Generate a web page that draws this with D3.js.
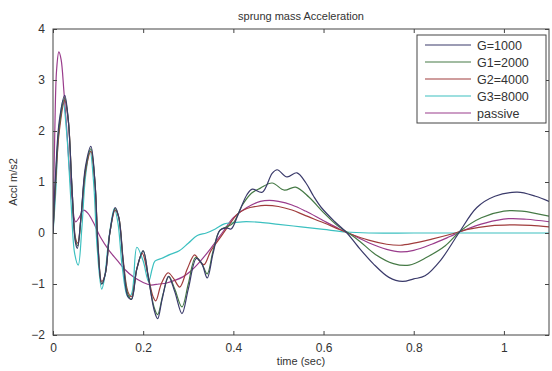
<!DOCTYPE html>
<html><head><meta charset="utf-8">
<script src="https://cdn.jsdelivr.net/npm/d3@7/dist/d3.min.js"></script>
<style>body{margin:0;background:#fff}svg{display:block}text{font-family:"Liberation Sans",Arial,sans-serif}</style>
</head><body><svg id="c" width="552" height="371"></svg>
<script>
const xTicks = [0, 0.2, 0.4, 0.6, 0.8, 1];
const yTicks = [-2, -1, 0, 1, 2, 3, 4];
const seriesNames = ["G=1000", "G1=2000", "G2=4000", "G3=8000", "passive"];
const seriesColors = ["#3a3a6a", "#467a46", "#a03c3c", "#3cc0c0", "#9a3c8c"];

const g1000 = [[0,0],[0.006,1.2],[0.014,2.2],[0.026,2.7],[0.034,2.2],[0.042,0.9],[0.05,-0.2],[0.054,-0.3],[0.062,0.3],[0.072,1.3],[0.084,1.7],[0.093,1.0],[0.1,-0.3],[0.108,-1.0],[0.116,-0.8],[0.126,0.0],[0.138,0.5],[0.146,0.3],[0.156,-0.6],[0.166,-1.25],[0.174,-1.3],[0.186,-0.7],[0.2,-0.35],[0.212,-0.9],[0.224,-1.5],[0.232,-1.68],[0.242,-1.3],[0.256,-0.85],[0.27,-1.15],[0.286,-1.58],[0.3,-1.1],[0.318,-0.5],[0.33,-0.6],[0.342,-0.88],[0.355,-0.4],[0.37,0.05],[0.385,0.1],[0.395,0.08],[0.41,0.35],[0.43,0.75],[0.442,0.86],[0.464,0.8],[0.486,1.17],[0.497,1.24],[0.519,1.1],[0.541,1.18],[0.561,0.98],[0.578,0.72],[0.595,0.5],[0.625,0.22],[0.652,0.0],[0.675,-0.25],[0.71,-0.6],[0.745,-0.87],[0.775,-0.95],[0.8,-0.9],[0.825,-0.84],[0.86,-0.53],[0.9,0.0],[0.94,0.5],[0.98,0.72],[1.03,0.8],[1.07,0.72],[1.1,0.62]];
const g2000 = [[0,0],[0.006,1.1],[0.014,2.1],[0.026,2.65],[0.034,2.2],[0.042,0.9],[0.05,-0.15],[0.055,-0.25],[0.062,0.3],[0.072,1.25],[0.084,1.65],[0.093,1.0],[0.1,-0.3],[0.108,-1.0],[0.116,-0.8],[0.126,0.0],[0.138,0.48],[0.146,0.3],[0.156,-0.6],[0.166,-1.2],[0.174,-1.3],[0.186,-0.7],[0.2,-0.35],[0.212,-0.9],[0.224,-1.45],[0.232,-1.6],[0.244,-1.2],[0.257,-0.85],[0.27,-1.1],[0.286,-1.45],[0.3,-1.0],[0.316,-0.48],[0.33,-0.6],[0.342,-0.8],[0.355,-0.35],[0.37,0.05],[0.385,0.12],[0.4,0.2],[0.42,0.55],[0.44,0.78],[0.46,0.88],[0.486,0.98],[0.513,0.84],[0.538,0.9],[0.568,0.7],[0.6,0.4],[0.63,0.15],[0.655,0.0],[0.68,-0.16],[0.715,-0.42],[0.755,-0.6],[0.79,-0.63],[0.83,-0.47],[0.87,-0.25],[0.905,0.05],[0.95,0.3],[1.0,0.43],[1.04,0.43],[1.1,0.33]];
const g4000 = [[0,0],[0.006,1.0],[0.014,2.0],[0.026,2.6],[0.034,2.2],[0.042,0.9],[0.05,-0.1],[0.055,-0.2],[0.062,0.3],[0.072,1.2],[0.084,1.6],[0.093,1.0],[0.1,-0.25],[0.108,-0.95],[0.116,-0.8],[0.126,0.0],[0.138,0.45],[0.146,0.3],[0.156,-0.55],[0.166,-1.15],[0.174,-1.25],[0.186,-0.7],[0.198,-0.4],[0.21,-0.8],[0.222,-1.25],[0.228,-1.33],[0.24,-1.0],[0.255,-0.78],[0.268,-0.9],[0.281,-1.06],[0.298,-0.7],[0.314,-0.43],[0.325,-0.55],[0.335,-0.62],[0.35,-0.35],[0.37,-0.1],[0.39,0.15],[0.41,0.38],[0.43,0.48],[0.45,0.52],[0.47,0.54],[0.5,0.52],[0.53,0.45],[0.56,0.34],[0.6,0.2],[0.635,0.07],[0.66,-0.02],[0.7,-0.14],[0.74,-0.22],[0.77,-0.24],[0.8,-0.2],[0.84,-0.12],[0.88,-0.03],[0.92,0.07],[0.97,0.14],[1.02,0.16],[1.06,0.15],[1.1,0.12]];
const g8000 = [[0,0],[0.006,0.8],[0.012,1.9],[0.022,2.6],[0.03,2.0],[0.04,0.6],[0.048,-0.4],[0.056,-0.63],[0.064,0.1],[0.072,1.1],[0.082,1.62],[0.09,1.0],[0.098,-0.3],[0.108,-1.1],[0.114,-0.9],[0.124,-0.1],[0.136,0.48],[0.144,0.2],[0.154,-0.7],[0.166,-1.25],[0.174,-1.2],[0.186,-0.28],[0.2,-0.55],[0.212,-0.95],[0.22,-0.7],[0.226,-0.55],[0.24,-0.5],[0.26,-0.42],[0.28,-0.35],[0.3,-0.2],[0.32,-0.05],[0.34,0.0],[0.36,0.08],[0.38,0.18],[0.4,0.2],[0.42,0.22],[0.46,0.21],[0.5,0.17],[0.55,0.12],[0.6,0.07],[0.65,0.02],[0.7,0.0],[0.8,0.0],[0.9,0.0],[1.0,0.0],[1.1,0.0]];
const passive = [[0,0],[0.004,2.0],[0.008,3.2],[0.013,3.55],[0.018,3.4],[0.024,2.8],[0.03,2.1],[0.036,1.3],[0.042,0.7],[0.05,0.22],[0.058,0.3],[0.068,0.45],[0.078,0.38],[0.09,0.2],[0.105,-0.08],[0.125,-0.35],[0.142,-0.53],[0.16,-0.72],[0.178,-0.86],[0.2,-0.97],[0.215,-1.02],[0.235,-1.0],[0.252,-0.98],[0.27,-0.93],[0.288,-0.86],[0.305,-0.75],[0.325,-0.57],[0.35,-0.3],[0.375,0.0],[0.4,0.3],[0.43,0.5],[0.46,0.62],[0.48,0.64],[0.5,0.62],[0.53,0.55],[0.56,0.43],[0.6,0.24],[0.635,0.08],[0.66,-0.02],[0.7,-0.19],[0.74,-0.32],[0.77,-0.37],[0.8,-0.34],[0.84,-0.22],[0.88,-0.07],[0.91,0.05],[0.96,0.2],[1.01,0.28],[1.05,0.27],[1.1,0.22]];
const seriesData = [g1000, g2000, g4000, g8000, passive];

const svg = d3.select("#c");
const L = 53, R = 549, T = 29, B = 335;
const x = d3.scaleLinear().domain([0, 1.1]).range([L, R]);
const y = d3.scaleLinear().domain([-2, 4]).range([B, T]);
const axisColor = "#444";

svg.append("rect").attr("x", L).attr("y", T).attr("width", R - L).attr("height", B - T).attr("fill", "#fff");

const clip = svg.append("defs").append("clipPath").attr("id", "clp");
clip.append("rect").attr("x", L).attr("y", T).attr("width", R - L).attr("height", B - T);

const line = d3.line().x(d => x(d[0])).y(d => y(d[1])).curve(d3.curveCatmullRom.alpha(0.5));
const plot = svg.append("g").attr("clip-path", "url(#clp)");
const order = [4, 3, 2, 1, 0];
order.forEach(i => {
  plot.append("path").datum(seriesData[i]).attr("d", line)
    .attr("fill", "none").attr("stroke", seriesColors[i]).attr("stroke-width", 1.2);
});

const fmt = d3.format("~g");
const xb = svg.append("g").attr("transform", `translate(0,${B})`)
  .call(d3.axisBottom(x).tickValues(xTicks).tickSize(-4).tickPadding(8).tickFormat(fmt));
const xt = svg.append("g").attr("transform", `translate(0,${T})`)
  .call(d3.axisTop(x).tickValues(xTicks).tickSize(-4).tickFormat(""));
const yl = svg.append("g").attr("transform", `translate(${L},0)`)
  .call(d3.axisLeft(y).tickValues(yTicks).tickSize(-4).tickPadding(8).tickFormat(fmt));
const yr = svg.append("g").attr("transform", `translate(${R},0)`)
  .call(d3.axisRight(y).tickValues(yTicks).tickSize(-4).tickFormat(""));
[xb, xt, yl, yr].forEach(g => {
  g.select(".domain").remove();
  g.selectAll("line").attr("stroke", axisColor);
  g.selectAll("text").attr("fill", "#333").style("font-size", "12px");
});
svg.append("rect").attr("x", L).attr("y", T).attr("width", R - L).attr("height", B - T)
  .attr("fill", "none").attr("stroke", axisColor).attr("stroke-width", 1);

svg.append("text").attr("x", 301).attr("y", 20).attr("text-anchor", "middle")
  .style("font-size", "11px").attr("fill", "#333").text("sprung mass Acceleration");
svg.append("text").attr("x", 301).attr("y", 365).attr("text-anchor", "middle")
  .style("font-size", "11px").attr("fill", "#333").text("time (sec)");
svg.append("text").attr("transform", "translate(17,182) rotate(-90)").attr("text-anchor", "middle")
  .style("font-size", "11px").attr("fill", "#333").text("Accl m/s2");

const lg = svg.append("g");
lg.append("rect").attr("x", 417).attr("y", 35).attr("width", 129).attr("height", 88)
  .attr("fill", "#fff").attr("stroke", axisColor);
seriesNames.forEach((n, i) => {
  const yy = 45 + i * 17;
  lg.append("line").attr("x1", 425).attr("x2", 471).attr("y1", yy).attr("y2", yy)
    .attr("stroke", seriesColors[i]).attr("stroke-width", 1.2);
  lg.append("text").attr("x", 477).attr("y", yy + 4.5).style("font-size", "12.5px").attr("fill", "#333").text(n);
});
</script></body></html>
